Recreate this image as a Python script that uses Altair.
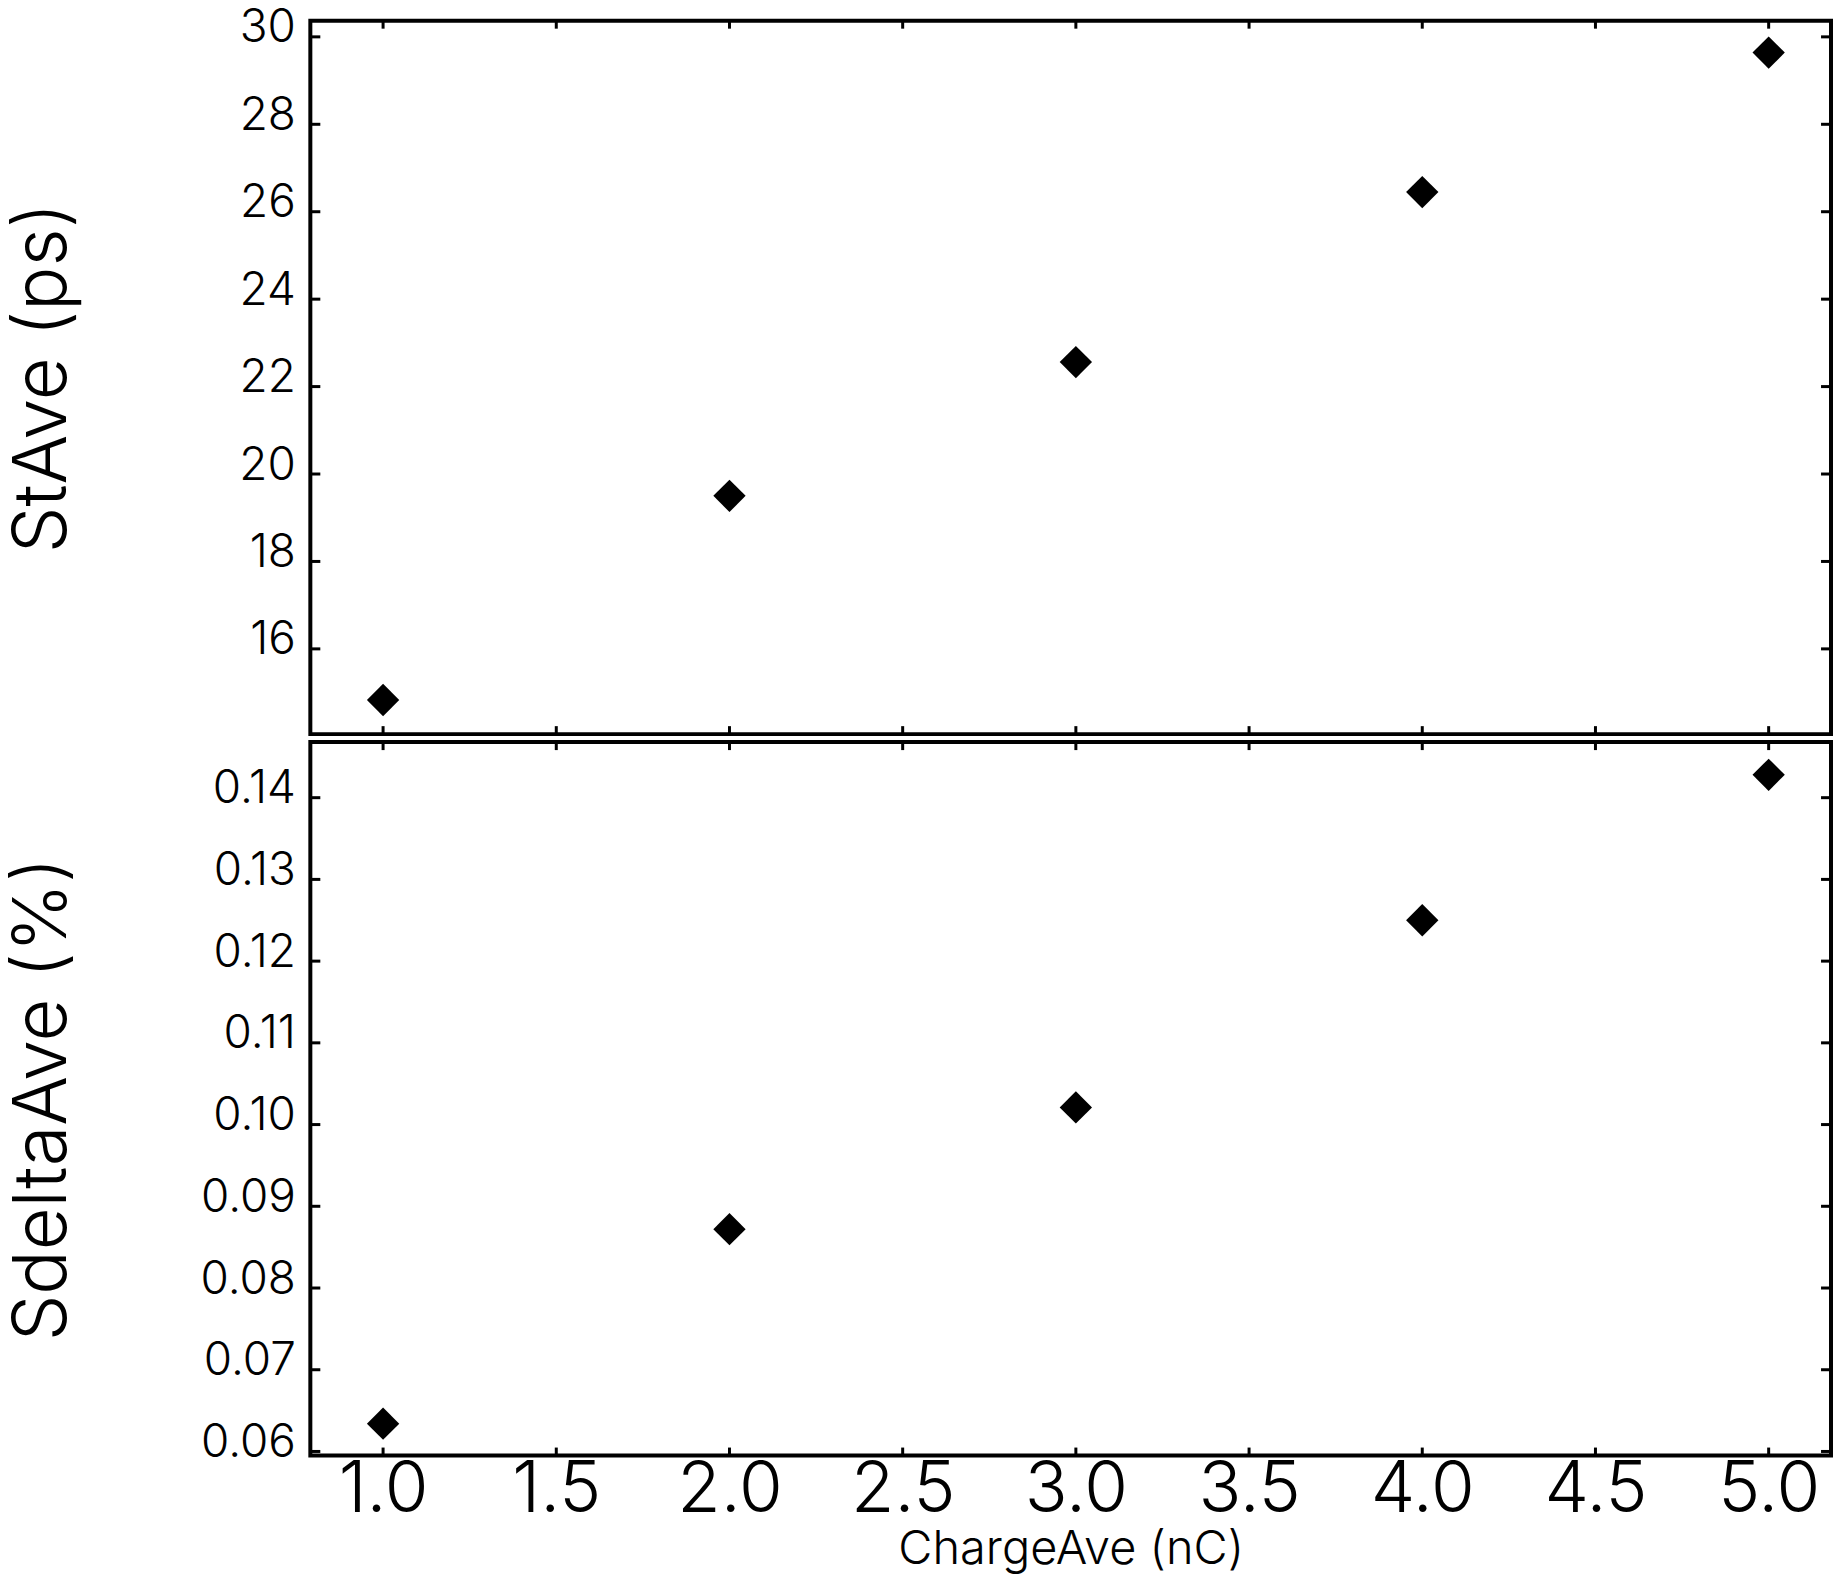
import altair as alt
import pandas as pd

# ---- data ----
charge = [1.0, 2.0, 3.0, 4.0, 5.0]
st_ave = [14.83, 19.50, 22.56, 26.45, 29.64]
sdelta_ave = [0.0634, 0.0872, 0.1021, 0.1250, 0.1428]

x_ticks = [1.0, 1.5, 2.0, 2.5, 3.0, 3.5, 4.0, 4.5, 5.0]
st_ticks = [16, 18, 20, 22, 24, 26, 28, 30]
sd_ticks = [0.06, 0.07, 0.08, 0.09, 0.10, 0.11, 0.12, 0.13, 0.14]

x_domain = [0.79, 5.18]
st_domain = [14.05, 30.37]
sd_domain = [0.0595, 0.1468]

W, H = 1524, 715
FONT = "Inter"
WEIGHT = 300
YTICK_LEN = 10
XTICK_LEN = 8
TICK_W = 3

points_df = pd.DataFrame({"x": charge, "st": st_ave, "sd": sdelta_ave})
xt_df = pd.DataFrame({"x": x_ticks})
st_df = pd.DataFrame({"y": st_ticks})
sd_df = pd.DataFrame({"y": sd_ticks})

xscale = alt.Scale(domain=x_domain, nice=False, zero=False)


def panel(field, domain, ytick_df, title, fmt, show_x):
    yscale = alt.Scale(domain=domain, nice=False, zero=False)
    yaxis = alt.Axis(
        title=title, values=list(ytick_df["y"]), format=fmt,
        ticks=False, domain=False, grid=False,
        labelFont=FONT, labelFontSize=46, labelFontWeight=WEIGHT, labelColor="black",
        labelBaseline="alphabetic", labelPadding=15, labelOffset=5,
        titleFont=FONT, titleFontSize=74, titleFontWeight=WEIGHT, titleColor="black",
        titleX=-245, titleBaseline="alphabetic", titleAngle=270,
    )
    if show_x:
        xaxis = alt.Axis(
            title="ChargeAve (nC)", values=x_ticks, format=".1f",
            ticks=False, domain=False, grid=False,
            labelFont=FONT, labelFontSize=71, labelFontWeight=WEIGHT, labelColor="black",
            labelBaseline="top", labelPadding=0, labelFlush=False,
            titleFont=FONT, titleFontSize=47, titleFontWeight=WEIGHT, titleColor="black",
            titleY=108, titleBaseline="alphabetic",
        )
    else:
        xaxis = None

    pts = alt.Chart(points_df).mark_point(
        shape="diamond", filled=True, size=1050, color="black", opacity=1
    ).encode(
        x=alt.X("x:Q", scale=xscale, axis=xaxis),
        y=alt.Y(f"{field}:Q", scale=yscale, axis=yaxis),
    )

    ytl = alt.Chart(ytick_df).mark_rule(color="black", strokeWidth=TICK_W).encode(
        y=alt.Y("y:Q", scale=yscale, axis=yaxis),
        x=alt.value(0), x2=alt.value(YTICK_LEN),
    )
    ytr = alt.Chart(ytick_df).mark_rule(color="black", strokeWidth=TICK_W).encode(
        y=alt.Y("y:Q", scale=yscale, axis=yaxis),
        x=alt.value(W - YTICK_LEN), x2=alt.value(W),
    )
    xtt = alt.Chart(xt_df).mark_rule(color="black", strokeWidth=TICK_W).encode(
        x=alt.X("x:Q", scale=xscale, axis=xaxis),
        y=alt.value(0), y2=alt.value(XTICK_LEN),
    )
    xtb = alt.Chart(xt_df).mark_rule(color="black", strokeWidth=TICK_W).encode(
        x=alt.X("x:Q", scale=xscale, axis=xaxis),
        y=alt.value(H - XTICK_LEN), y2=alt.value(H),
    )
    layers = [pts, ytl, ytr, xtt, xtb]
    if not show_x:
        # invisible spacer fixing the top margin of the layout
        spacer = alt.Chart(xt_df.head(1)).mark_rule(opacity=0).encode(
            x=alt.value(0), x2=alt.value(1), y=alt.value(-30),
        )
        layers.append(spacer)
    return alt.layer(*layers).properties(width=W, height=H)


top = panel("st", st_domain, st_df, "StAve (ps)", "d", False)
bottom = panel("sd", sd_domain, sd_df, "SdeltaAve (%)", ".2f", True)

chart = alt.vconcat(top, bottom, spacing=0).configure_view(
    stroke="black", strokeWidth=4
).properties(
    padding={"left": -3, "top": -21, "right": 0, "bottom": -2},
    background="white",
)

chart.save("out.html", embed_options={"renderer": "svg", "actions": False})
